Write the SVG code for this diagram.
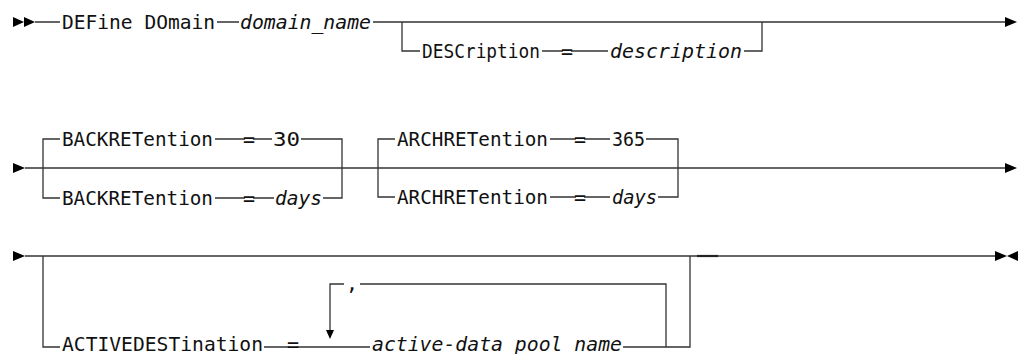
<svg xmlns="http://www.w3.org/2000/svg" width="1022" height="354" viewBox="0 0 1022 354">
<style>
text{font-family:"DejaVu Sans Mono","Liberation Mono",monospace;font-size:20px;fill:#111}
.v{font-style:italic}
.eq{text-anchor:middle}
.ln{stroke:#333;stroke-width:1.3;fill:none}
.ar{fill:#000;stroke:none}
</style>
<rect width="1022" height="354" fill="#fff"/>
<g id="connectors">
<!-- row 1 -->
<polygon class="ar" points="13,17 24,22 13,27"/>
<polygon class="ar" points="24,17 35,22 24,27"/>
<path class="ln" d="M35,22H60M217,22H239M373,22H1005"/>
<path class="ln" d="M402,22V51H420M542,51H563M571,51H608M744,51H762V22"/>
<polygon class="ar" points="1005,17 1017,22 1005,27"/>
<!-- row 2 -->
<polygon class="ar" points="13,163 25,168 13,173"/>
<path class="ln" d="M25,168H1005"/>
<path class="ln" d="M60,139H43V198H60M215,139H245M253,139H272M301,139H342V198H323M215,198H245M253,198H274"/>
<path class="ln" d="M395,139H378V197H395M550,139H576M584,139H610M646,139H678V197H658M550,197H576M584,197H610"/>
<polygon class="ar" points="1005,163 1017,168 1005,173"/>
<!-- row 3 -->
<polygon class="ar" points="13,251 25,256 13,261"/>
<path class="ln" d="M25,256H995"/>
<path d="M697,256H718" stroke="#222" stroke-width="2.2"/>
<path class="ln" d="M43,256V347H60M264,347H289M297,347H370M623,347H690V256"/>
<path class="ln" d="M666,347V284H360M344,284H330V331"/>
<polygon class="ar" points="326,330 334,330 330,339"/>
<polygon class="ar" points="995,251 1007,256 995,261"/>
<polygon class="ar" points="1018,251 1007,256 1018,261"/>
</g>
<g id="n-define-domain"><text x="62" y="29" textLength="153" lengthAdjust="spacingAndGlyphs">DEFine DOmain</text></g>
<g id="n-domain-name"><text class="v" x="240" y="29" textLength="131" lengthAdjust="spacingAndGlyphs">domain_name</text></g>
<g id="n-description-kw"><text x="422" y="58" textLength="118" lengthAdjust="spacingAndGlyphs">DESCription</text><text class="eq" x="567" y="58">=</text></g>
<g id="n-description"><text class="v" x="610" y="58" textLength="132" lengthAdjust="spacingAndGlyphs">description</text></g>
<g id="n-backret-30"><text x="62" y="146" textLength="151" lengthAdjust="spacingAndGlyphs">BACKRETention</text><text class="eq" x="249" y="146">=</text><text x="273" y="146" textLength="27" lengthAdjust="spacingAndGlyphs">30</text></g>
<g id="n-backret-days"><text x="62" y="205" textLength="151" lengthAdjust="spacingAndGlyphs">BACKRETention</text><text class="eq" x="249" y="205">=</text><text class="v" x="275" y="205" textLength="47" lengthAdjust="spacingAndGlyphs">days</text></g>
<g id="n-archret-365"><text x="397" y="146" textLength="151" lengthAdjust="spacingAndGlyphs">ARCHRETention</text><text class="eq" x="580" y="146">=</text><text x="612" y="146" textLength="33" lengthAdjust="spacingAndGlyphs">365</text></g>
<g id="n-archret-days"><text x="397" y="204" textLength="151" lengthAdjust="spacingAndGlyphs">ARCHRETention</text><text class="eq" x="580" y="204">=</text><text class="v" x="612" y="204" textLength="45" lengthAdjust="spacingAndGlyphs">days</text></g>
<g id="n-activedest"><text x="62" y="351" textLength="201" lengthAdjust="spacingAndGlyphs">ACTIVEDESTination</text><text class="eq" x="293" y="351">=</text></g>
<g id="n-comma"><text class="eq" x="352" y="290">,</text></g>
<g id="n-pool-name"><text class="v" x="372" y="351" textLength="250" lengthAdjust="spacingAndGlyphs">active-data pool name</text></g>
</svg>
